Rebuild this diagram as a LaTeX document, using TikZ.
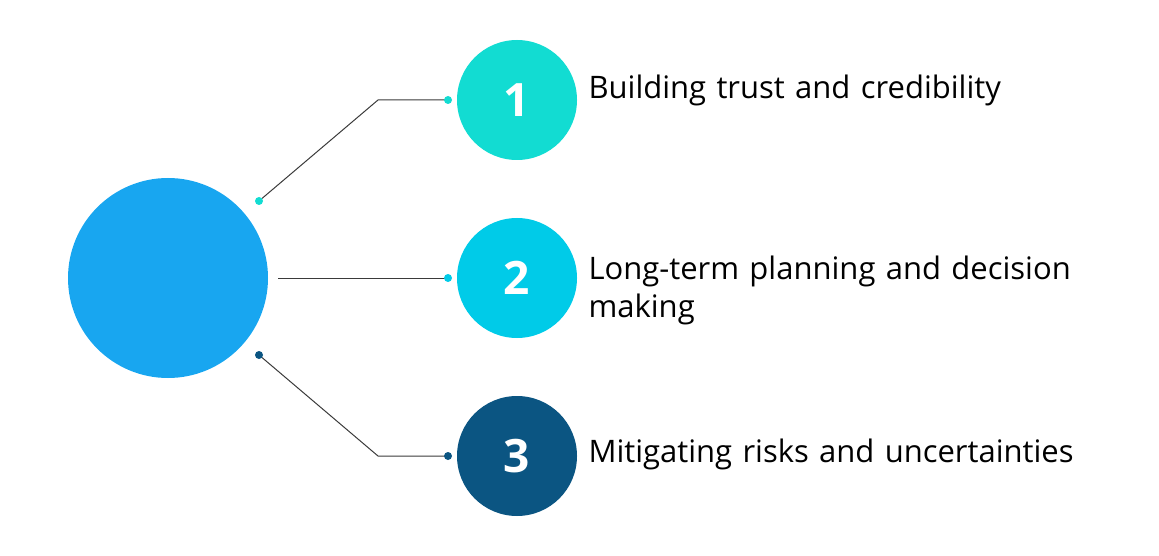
\documentclass[tikz,border=0pt]{standalone}
\usepackage{fontspec}
\setmainfont{Open Sans}
\usetikzlibrary{calc}
\definecolor{hubblue}{HTML}{18A6F0}
\definecolor{cone}{HTML}{12DCD2}
\definecolor{ctwo}{HTML}{00CBE8}
\definecolor{cthree}{HTML}{0B5582}
\definecolor{linegray}{HTML}{3A3A3A}
\tikzset{
  numdot/.style={circle, minimum size=120pt, inner sep=0pt, text=white,
    font=\fontsize{46}{46}\selectfont\bfseries},
  label/.style={anchor=west, align=left, text width=560pt,
    font=\fontsize{31}{38}\selectfont},
  conn/.style={linegray, line width=1pt},
}
\begin{document}
\begin{tikzpicture}[x=1pt,y=-1pt]
  \useasboundingbox (0,0) rectangle (1159,556);
  \node[circle, fill=hubblue, minimum size=200pt, inner sep=0pt] (hub) at (168,278) {};
  \node[numdot, fill=cone] (n1) at (517,100) {1};
  \node[numdot, fill=ctwo] (n2) at (517,278) {2};
  \node[numdot, fill=cthree] (n3) at (517,456) {3};
  \node[label] (t1) at (585,90) {Building trust and credibility};
  \node[label] (t2) at (585,290) {Long-term planning and decision\\making};
  \node[label] (t3) at (585,454) {Mitigating risks and uncertainties};
  % connectors
  \coordinate (s1) at (259,201);
  \coordinate (e1) at (448,100);
  \coordinate (s2) at (278,278);
  \coordinate (e2) at (448,278);
  \coordinate (s3) at (259,355);
  \coordinate (e3) at (448,456);
  \draw[conn] (s1) -- (378,100) -- (e1);
  \draw[conn] (s2) -- (e2);
  \draw[conn] (s3) -- (378,456) -- (e3);
  \fill[cone] (s1) circle(4pt) (e1) circle(4pt);
  \fill[ctwo] (e2) circle(4pt);
  \fill[cthree] (s3) circle(4pt) (e3) circle(4pt);
\end{tikzpicture}
\end{document}
